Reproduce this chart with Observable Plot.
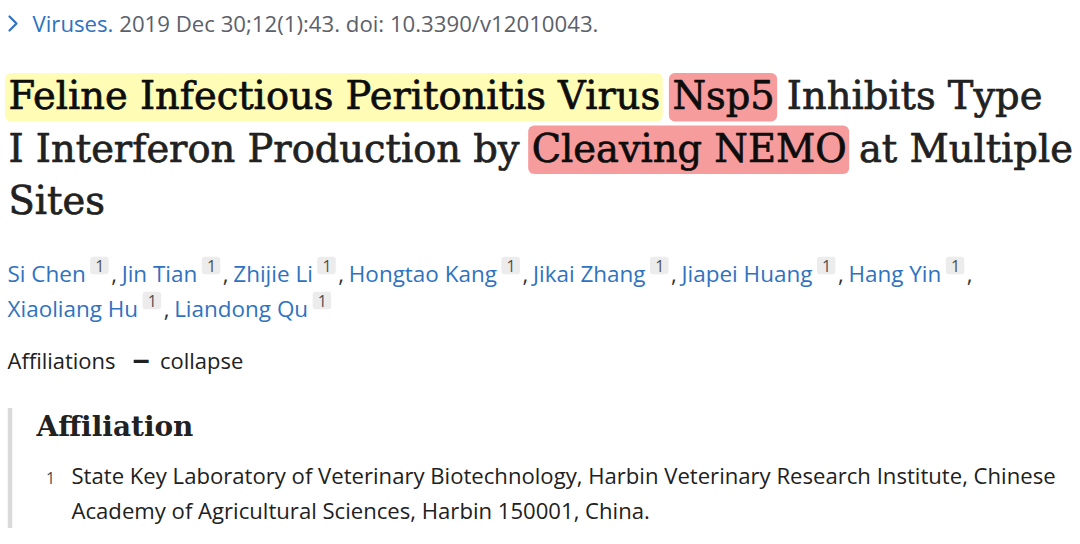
<!DOCTYPE html>
<html>
<head>
<meta charset="utf-8">
<script src="https://cdn.jsdelivr.net/npm/d3@7"></script>
<script src="https://cdn.jsdelivr.net/npm/@observablehq/plot@0.6"></script>
<style>
  html, body { margin: 0; padding: 0; background: #fff; }
  #chart svg { display: block; }
</style>
</head>
<body>
<div id="chart"></div>
<script>
// ---------------- content ----------------
const citationJournal = "Viruses.";
const citationDetails = "2019 Dec 30;12(1):43. doi: 10.3390/v12010043.";
const titleLines = [
  "Feline Infectious Peritonitis Virus Nsp5 Inhibits Type",
  "I Interferon Production by Cleaving NEMO at Multiple",
  "Sites"
];
const highlightPhrases = ["Feline Infectious Peritonitis Virus", "Nsp5", "Cleaving NEMO"];
const highlightKinds = ["yellow", "red", "red"];
const authorLines = [
  ["Si Chen", "Jin Tian", "Zhijie Li", "Hongtao Kang", "Jikai Zhang", "Jiapei Huang", "Hang Yin"],
  ["Xiaoliang Hu", "Liandong Qu"]
];
const authorAffiliationMark = "1";
const affiliationsToggle = ["Affiliations", "\u2212", "collapse"];
const affiliationHeading = "Affiliation";
const affiliationNumber = "1";
const affiliationLines = [
  "State Key Laboratory of Veterinary Biotechnology, Harbin Veterinary Research Institute, Chinese",
  "Academy of Agricultural Sciences, Harbin 150001, China."
];

// ---------------- styles ----------------
const SANS = "'Open Sans', 'Noto Sans', sans-serif";
const SERIF = "'DejaVu Serif', 'Liberation Serif', serif";
const BLUE = "#2f72c0";
const GRAY = "#5b616b";
const TEXT = "#212121";
const DARK = "#0d0d0d";
const HL = {yellow: {fill: "#fffcb6", glow: "rgba(255,248,160,0.95)"},
            red: {fill: "#f79c9c", glow: "rgba(245,140,140,0.9)"}};

const ctx = document.createElement("canvas").getContext("2d");
function tw(text, size, family, weight = 400) {
  ctx.font = `${weight} ${size}px ${family}`;
  return ctx.measureText(text).width;
}
function fit(text, target, family, weight = 400) {
  return 20 * target / tw(text, 20, family, weight);
}

// chevron icon as a custom Plot symbol
const chevron = {
  draw(context, size) {
    const r = Math.sqrt(size / Math.PI);
    context.moveTo(-r / 2, -r);
    context.lineTo(r / 2, 0);
    context.lineTo(-r / 2, r);
  }
};

// ---------------- layout ----------------
const sansSegs = [];
const boldSansSegs = [];
const serifSegs = [];
const serifBoldSegs = [];
const hlRects = [];
const supBoxes = [];
const icons = [];

// citation line
{
  const full = citationJournal + " " + citationDetails;
  const s = fit(full, 566, SANS);
  const x0 = 32, y = 31;
  sansSegs.push({x: x0, y, t: citationJournal, fill: BLUE, size: s});
  sansSegs.push({x: x0 + tw(citationJournal + " ", s, SANS), y, t: citationDetails, fill: GRAY, size: s});
  icons.push({x: 12.5, y: 23});
}

// title
{
  const s = (fit(titleLines[0], 1042, SERIF) + fit(titleLines[1], 1057, SERIF)) / 2;
  const x0 = 8;
  const baselines = [108.5, 161, 213.5];
  titleLines.forEach((line, li) => {
    const y = baselines[li];
    const ranges = [];
    highlightPhrases.forEach((p, pi) => {
      const i = line.indexOf(p);
      if (i >= 0) ranges.push({start: i, end: i + p.length, kind: highlightKinds[pi]});
    });
    ranges.sort((a, b) => a.start - b.start);
    let pos = 0;
    const pieces = [];
    ranges.forEach(r => {
      if (r.start > pos) pieces.push({start: pos, end: r.start, hl: null});
      pieces.push({start: r.start, end: r.end, hl: r.kind});
      pos = r.end;
    });
    if (pos < line.length) pieces.push({start: pos, end: line.length, hl: null});
    pieces.forEach(p => {
      let st = p.start, en = p.end;
      while (line[st] === " " && st < en) st++;
      while (line[en - 1] === " " && en > st) en--;
      if (en <= st) return;
      const txt = line.slice(st, en);
      const x = x0 + tw(line.slice(0, st), s, SERIF);
      serifSegs.push({x, y, t: txt, fill: p.hl ? DARK : TEXT, size: s});
      if (p.hl) {
        hlRects.push({x1: x - 3, x2: x + tw(txt, s, SERIF) + 3, y1: y - 35.5, y2: y + 13,
                      fill: HL[p.hl].fill, glow: HL[p.hl].glow});
      }
    });
  });
}

// authors
{
  const nameTarget = 718;
  const sumW = size => d3.sum(authorLines[0], n => tw(n, size, SANS));
  const s = 20 * nameTarget / sumW(20);
  const baselines = [281.7, 316.7];
  const total = d3.sum(authorLines, l => l.length);
  let k = 0;
  authorLines.forEach((names, li) => {
    const y = baselines[li];
    let x = 7;
    names.forEach(n => {
      k++;
      sansSegs.push({x, y, t: n, fill: BLUE, size: s});
      x += tw(n, s, SANS) + 5;
      supBoxes.push({x1: x, x2: x + 18.5, y1: y - 25, y2: y - 7.5});
      sansSegs.push({x: x + 9.25, y: y - 10, t: authorAffiliationMark, fill: "#505050", size: 16, anchor: "middle"});
      x += 18.5 + 2;
      if (k < total) {
        sansSegs.push({x, y, t: ",", fill: "#333", size: s});
        x += 10.5;
      }
    });
  });
}

// affiliations toggle
{
  const s = fit(affiliationsToggle[0], 108, SANS);
  const y = 368.3;
  let x = 7;
  sansSegs.push({x, y, t: affiliationsToggle[0], fill: TEXT, size: s});
  x += tw(affiliationsToggle[0], s, SANS) + 17;
  boldSansSegs.push({x, y: y + 3.5, t: affiliationsToggle[1], fill: TEXT, size: s * 1.4, anchor: "start"});
  x += tw(affiliationsToggle[1], s * 1.4, SANS, 700) + 10;
  sansSegs.push({x, y, t: affiliationsToggle[2], fill: TEXT, size: s});
}

// affiliation block
const bar = [{x: 9.5, y1: 408, y2: 528}];
{
  const hs = fit(affiliationHeading, 157, SERIF, 700);
  serifBoldSegs.push({x: 36, y: 435, t: affiliationHeading, fill: TEXT, size: hs});
  const s = fit(affiliationLines[0], 985, SANS);
  const baselines = [483.3, 518.5];
  sansSegs.push({x: 50, y: baselines[0], t: affiliationNumber, fill: "#505050", size: 16, anchor: "middle"});
  affiliationLines.forEach((l, i) => sansSegs.push({x: 71, y: baselines[i], t: l, fill: TEXT, size: s}));
}

// ---------------- draw ----------------
const textOpts = (family, weight) => ({
  x: "x", y: "y", text: "t", fill: "fill",
  fontSize: d => d.size, fontFamily: family, fontWeight: weight,
  textAnchor: "start", lineAnchor: "bottom"
});
const split = (arr, anchor) => arr.filter(d => (d.anchor || "start") === anchor);

const plot = Plot.plot({
  width: 1080,
  height: 544,
  margin: 0,
  x: {type: "identity", axis: null},
  y: {type: "identity", axis: null},
  style: {background: "#fff"},
  marks: [
    Plot.rect(hlRects, {x1: "x1", x2: "x2", y1: "y1", y2: "y2", fill: "fill", rx: 6, ariaLabel: "highlight"}),
    Plot.rect(supBoxes, {x1: "x1", x2: "x2", y1: "y1", y2: "y2", fill: "#ececec", rx: 3}),
    Plot.ruleX(bar, {x: "x", y1: "y1", y2: "y2", stroke: "#dadada", strokeWidth: 4.5}),
    Plot.dot(icons, {x: "x", y: "y", symbol: chevron, r: 7, fill: "none", stroke: BLUE, strokeWidth: 2.2,
                     strokeLinecap: "round", strokeLinejoin: "round"}),
    Plot.text(split(sansSegs, "start"), textOpts(SANS, 400)),
    Plot.text(split(sansSegs, "middle"), {...textOpts(SANS, 400), textAnchor: "middle"}),
    Plot.text(split(boldSansSegs, "start"), textOpts(SANS, 700)),
    Plot.text(serifSegs, {...textOpts(SERIF, 400), stroke: "fill", strokeWidth: 0.7}),
    Plot.text(serifBoldSegs, textOpts(SERIF, 700))
  ]
});

plot.querySelectorAll('g[aria-label="highlight"] rect').forEach((r, i) => {
  r.style.filter = `drop-shadow(0 0 3px ${hlRects[i].glow})`;
});

document.getElementById("chart").append(plot);
</script>
</body>
</html>
